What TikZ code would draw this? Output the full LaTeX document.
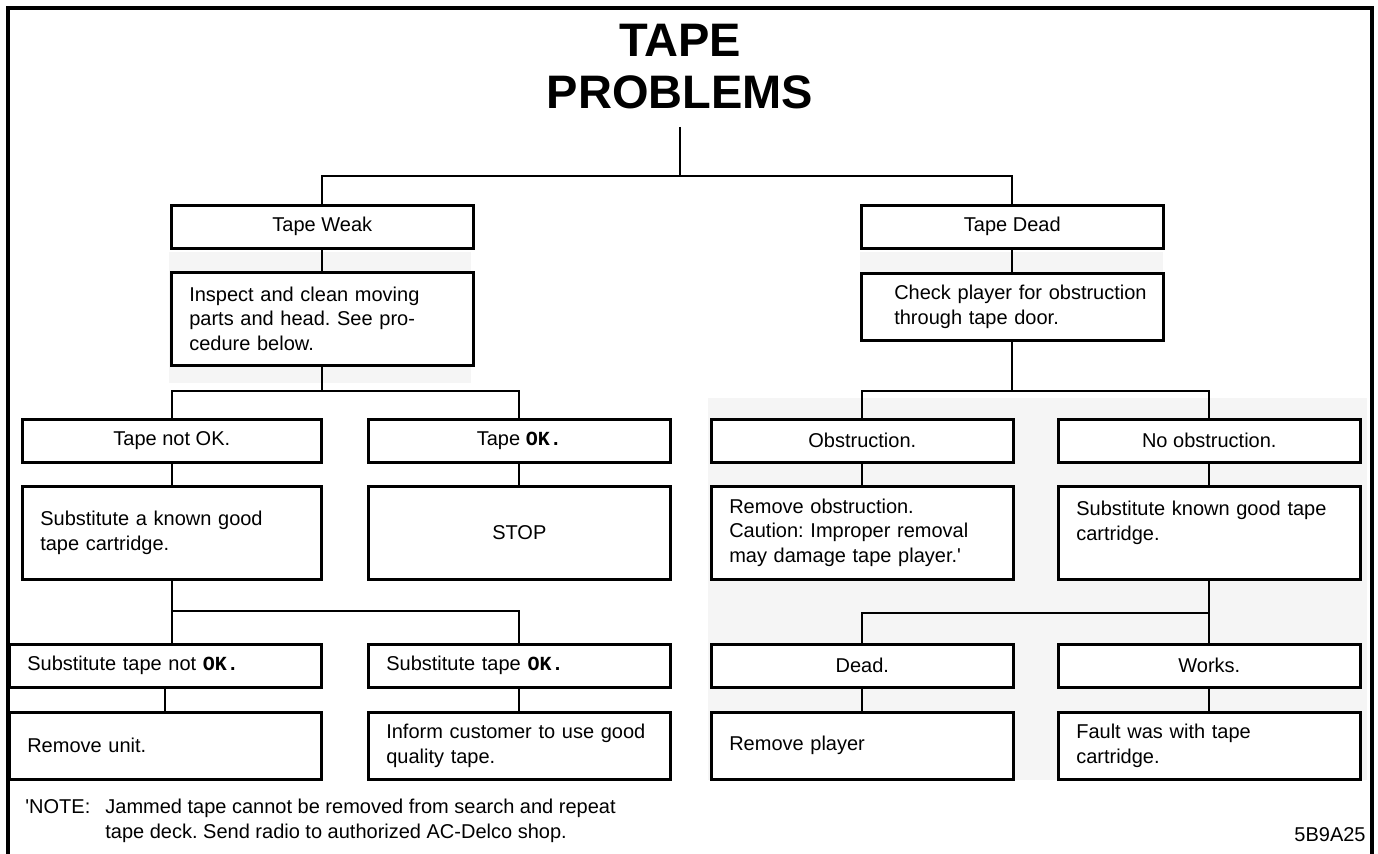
\documentclass[tikz,border=0pt]{standalone}
\usepackage{fontspec}
\setmainfont{Liberation Sans}
\setmonofont{Liberation Mono}
\frenchspacing
\def\boxfont{\fontsize{10}{12.3}\selectfont}
\def\okay{\texttt{\textbf{OK.}}}

\tikzset{
	head/.style={draw, fill=white, line width=1.3pt, anchor=north west, minimum width=151pt, minimum height=21.5pt, inner sep=0pt, font=\boxfont},
	headl/.style={head, align=left, inner xsep=9pt, text width=133pt},
	todo/.style={headl, minimum height=46.5pt},
	link/.style={line width=1pt},
}

\begin{document}
\begin{tikzpicture}[x=0.5pt, y=-0.5pt]
	\useasboundingbox (0,0) rectangle (1378,854);

	%faint grey patches behind some of the boxes
	\fill[black!4] (169,252) rectangle (471,383);
	\fill[black!4] (860,252) rectangle (1163,333);
	\fill[black!4] (708,398) rectangle (1367,780);

	%outer frame, open at the bottom
	\draw[line width=1.8pt] (8,854) -- (8,8) -- (1372,8) -- (1372,854);

	\node[font=\fontsize{23.5}{26}\selectfont\bfseries, align=center, inner xsep=0pt, inner ysep=8.5pt] (title) at (680,67) {TAPE\\PROBLEMS};

	%left branch
	\node[head] (weak) at (170,204) {Tape Weak};
	\node[todo] (inspect) at (170,271) {Inspect and clean moving\\parts and head. See pro-\\cedure below.};
	\node[head, minimum width=149.5pt] (notok) at (21,418) {Tape not OK.};
	\node[head] (ok) at (367,418) {Tape \okay};
	\node[todo, minimum width=149.5pt, text width=131.5pt] (subst) at (21,485) {Substitute a known good\\tape cartridge.};
	\node[head, minimum height=46.5pt] (stop) at (367,485) {STOP};
	\node[headl, minimum width=156pt, text width=138pt] (subnot) at (8,643) {Substitute tape not \okay};
	\node[headl] (subok) at (367,643) {Substitute tape \okay};
	\node[todo, minimum width=156pt, text width=138pt, minimum height=33.5pt] (unit) at (8,711) {Remove unit.};
	\node[todo, minimum height=33.5pt] (inform) at (367,711) {Inform customer to use good\\quality tape.};

	%right branch
	\node[head] (dead) at (860,204) {Tape Dead};
	\node[todo, minimum height=33.5pt, inner xsep=0pt, text width=151pt] (check) at (860,272) {\hspace*{16.5pt}Check player for obstruction\\\hspace*{16.5pt}through tape door.};
	\node[head] (obst) at (710,418) {Obstruction.};
	\node[head] (noobst) at (1057,418) {No obstruction.};
	\node[todo] (remobs) at (710,485) {Remove obstruction.\\Caution: Improper removal\\may damage tape player.\textquotesingle};
	\node[todo] (subgood) at (1057,485) {Substitute known good tape\\cartridge.\\\mbox{}};
	\node[head] (isdead) at (710,643) {Dead.};
	\node[head] (works) at (1057,643) {Works.};
	\node[todo, minimum height=33.5pt] (player) at (710,711) {Remove player};
	\node[todo, minimum height=33.5pt] (fault) at (1057,711) {Fault was with tape\\cartridge.};

	%branch points, straight below the box they leave
	\coordinate (split0) at (title.south |- 0,176);
	\coordinate (split1) at (inspect.south |- 0,391);
	\coordinate (split2) at (check.south |- 0,391);
	\coordinate (split3) at (subst.south |- 0,611);
	\coordinate (split4) at (subgood.south |- 0,613);

	%connecting lines
	\draw[link] (title) -- (split0);
	\draw[link] (weak.north) |- (split0) -| (dead.north);
	\draw[link] (weak) -- (inspect);
	\draw[link] (inspect) -- (split1);
	\draw[link] (notok.north) |- (split1) -| (ok.north);
	\draw[link] (notok) -- (subst);
	\draw[link] (ok) -- (stop);
	\draw[link] (subst.south) -- (split3) -- (split3 |- subnot.north);
	\draw[link] (split3) -| (subok.north);
	\draw[link] (subnot) -- (unit);
	\draw[link] (subok) -- (inform);
	\draw[link] (dead) -- (check);
	\draw[link] (check) -- (split2);
	\draw[link] (obst.north) |- (split2) -| (noobst.north);
	\draw[link] (obst) -- (remobs);
	\draw[link] (noobst) -- (subgood);
	\draw[link] (subgood.south) -- (split4) -- (split4 |- works.north);
	\draw[link] (split4) -| (isdead.north);
	\draw[link] (isdead) -- (player);
	\draw[link] (works) -- (fault);

	\node[font=\boxfont, align=left, anchor=west, inner sep=0pt] (note) at (25,821) {\makebox[40pt][l]{\textquotesingle NOTE:}Jammed tape cannot be removed from search and repeat\\\hspace*{40pt}tape deck. Send radio to authorized AC-Delco shop.};
	\node[font=\boxfont, anchor=east, inner sep=0pt] (code) at (1366,835) {5B9A25};
\end{tikzpicture}
\end{document}
